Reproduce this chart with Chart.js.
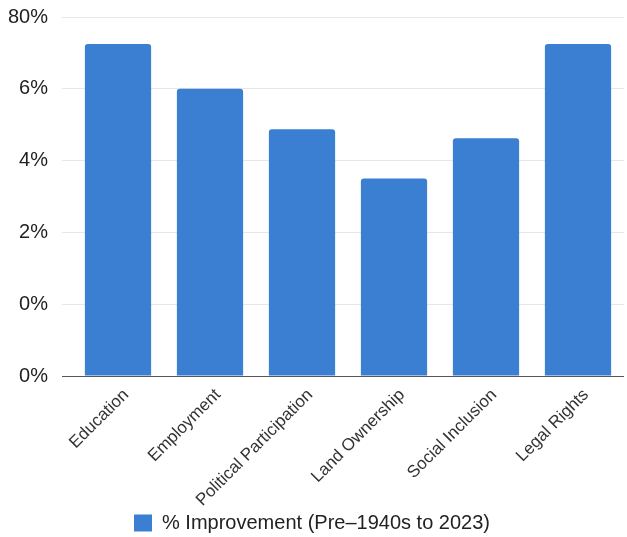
<!DOCTYPE html>
<html>
<head>
<meta charset="utf-8">
<script src="https://cdn.jsdelivr.net/npm/chart.js@4/dist/chart.umd.min.js"></script>
<style>
  html, body { margin: 0; padding: 0; background: #fff; }
  #wrap { width: 627px; height: 537px; position: relative; }
</style>
</head>
<body>
<div id="wrap"><canvas id="improvementChart"></canvas></div>
<script>
const categories = ['Education', 'Employment', 'Political Participation', 'Land Ownership', 'Social Inclusion', 'Legal Rights'];
const improvement = [74, 64, 55, 44, 53, 74];
const tickLabels = ['0%', '0%', '2%', '4%', '6%', '80%'];
const seriesLabel = '% Improvement (Pre\u20131940s to 2023)';

const fontFamily = 'Liberation Sans, Arial, sans-serif';

const ctx = document.getElementById('improvementChart').getContext('2d');
const chart = new Chart(ctx, {
    type: 'bar',
    data: {
        labels: categories,
        datasets: [{
            label: seriesLabel,
            data: improvement,
            backgroundColor: '#3a7fd2',
            borderRadius: 3,
            borderSkipped: 'bottom'
        }]
    },
    options: {
        responsive: true,
        maintainAspectRatio: false,
        animation: false,
        layout: {
            autoPadding: false,
            padding: { top: 17, right: 3, bottom: -6, left: 0 }
        },
        plugins: {
            legend: {
                position: 'bottom',
                labels: {
                    boxWidth: 18,
                    boxHeight: 17,
                    padding: 1,
                    color: '#222',
                    font: { family: fontFamily, size: 20 }
                }
            },
            tooltip: { enabled: false }
        },
        scales: {
            x: {
                grid: { display: false },
                border: { display: false },
                ticks: {
                    minRotation: 45,
                    maxRotation: 45,
                    color: '#333',
                    padding: 1,
                    labelOffset: 8,
                    font: { family: fontFamily, size: 17 }
                },
                afterFit: function(scale) {
                    scale.height = 136;
                }
            },
            y: {
                min: 0,
                max: 80,
                border: { display: false },
                grid: {
                    // baseline is darker than the other gridlines
                    color: (c) => c.index === 0 ? '#555' : '#e6e6e6',
                    drawTicks: true,
                    tickLength: 10
                },
                ticks: {
                    stepSize: 16,
                    padding: 14,
                    color: '#222',
                    font: { family: fontFamily, size: 20 },
                    callback: function(value, index) {
                        return tickLabels[index];
                    }
                },
                afterFit: function(scale) {
                    scale.width = 72;
                    scale.paddingTop = 0;
                    scale.paddingBottom = 0;
                }
            }
        }
    }
});
</script>
</body>
</html>
